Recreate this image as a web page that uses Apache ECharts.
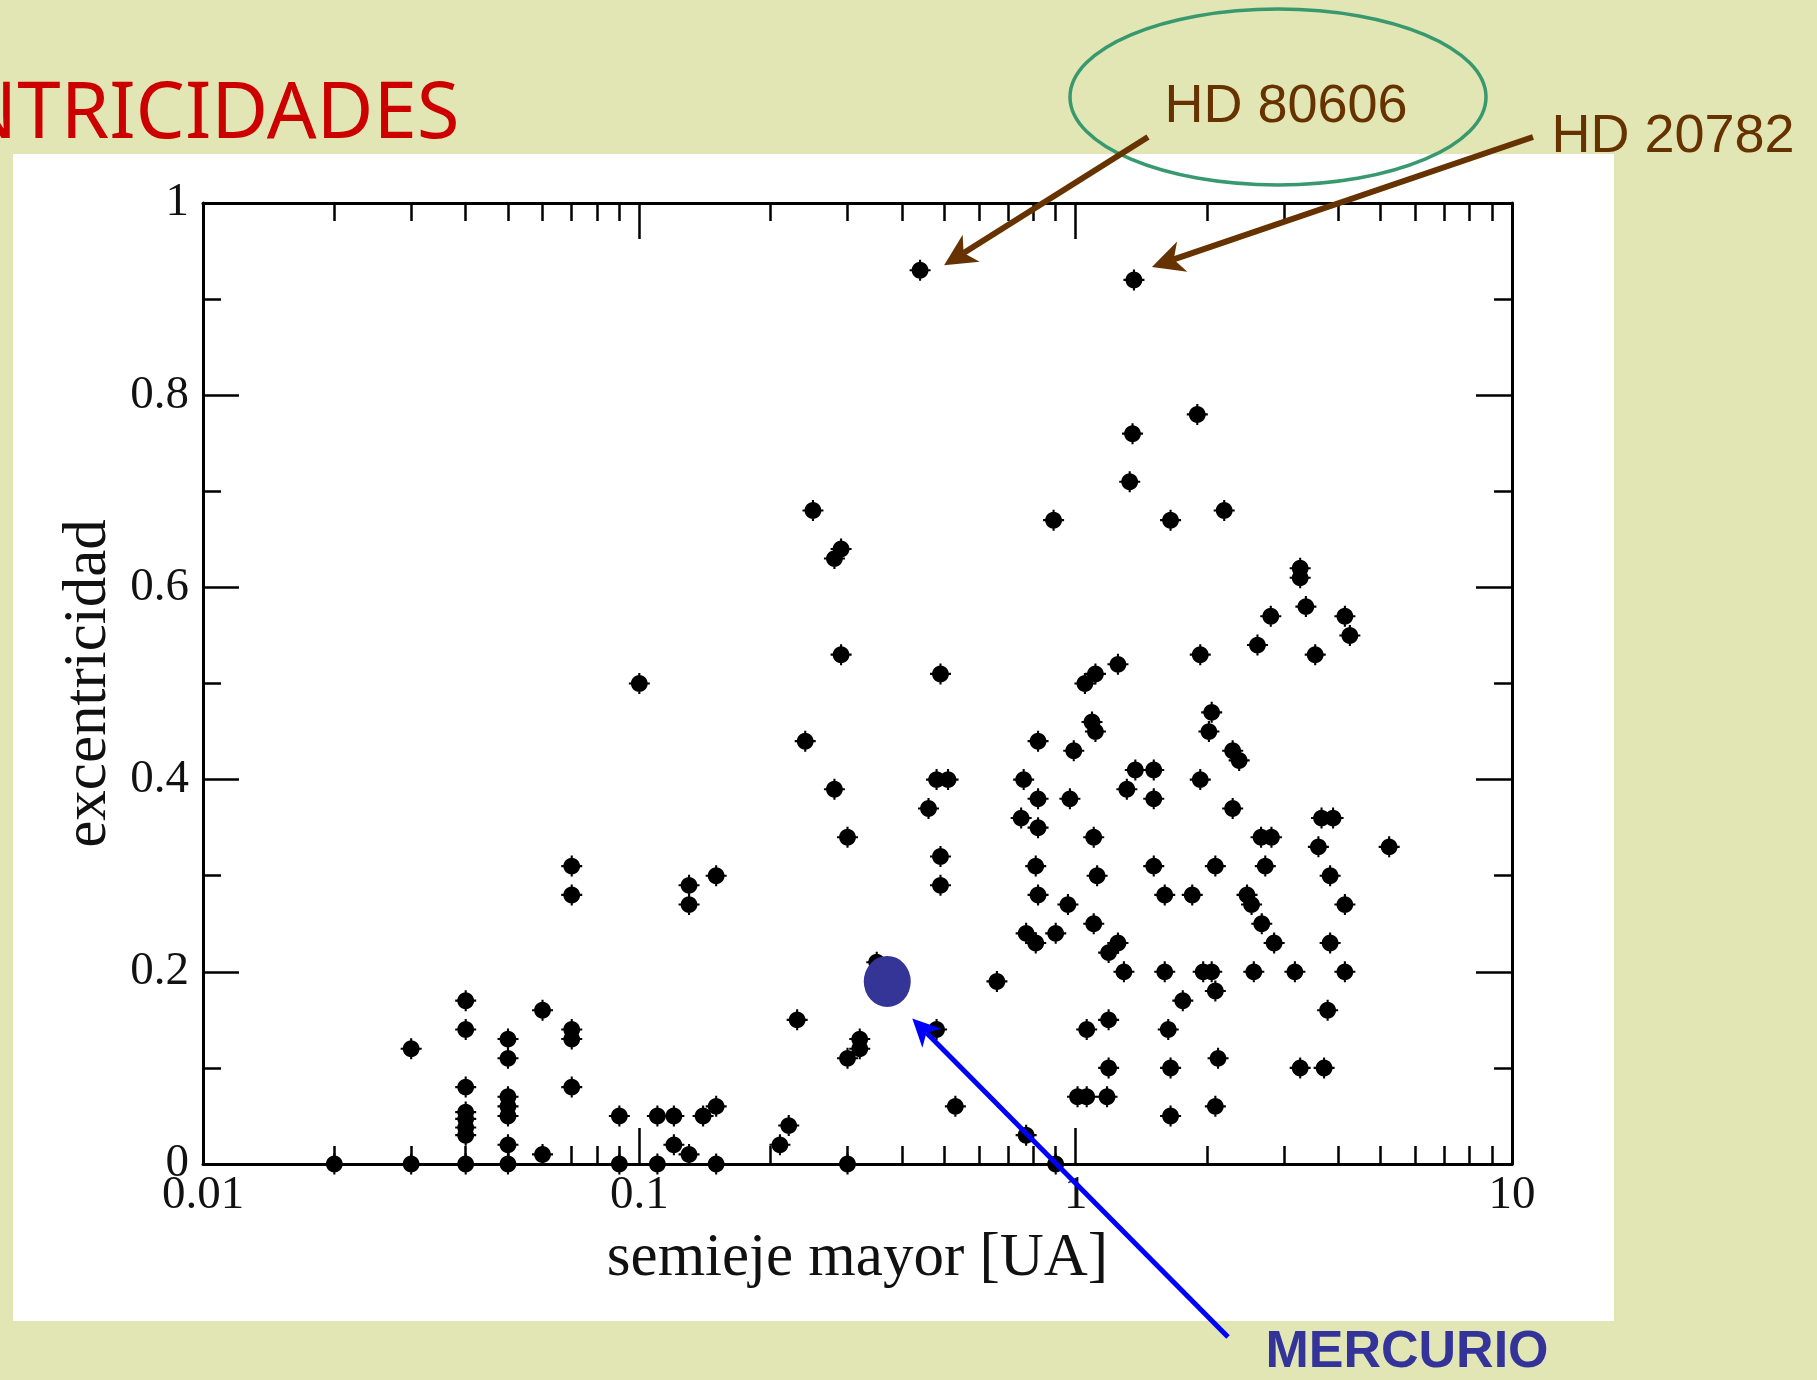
<!DOCTYPE html>
<html><head><meta charset="utf-8">
<script src="https://cdn.jsdelivr.net/npm/echarts@6/dist/echarts.min.js"></script>
<style>
html,body{margin:0;padding:0;background:#E2E6B4;overflow:hidden;}
#paper{position:absolute;left:13px;top:154px;width:1601px;height:1167px;background:#ffffff;}
#chart{position:absolute;left:0;top:0;width:1817px;height:1380px;}
</style></head><body>
<div id="paper"></div>
<div id="chart"></div>
<script>
// semieje mayor [UA] of each exoplanet
const semiejeMayor = [
  0.02,0.03,0.03,0.04,0.04,0.04,0.04,0.04,0.04,0.04,0.04,
  0.05,0.05,0.05,0.05,0.05,0.05,0.05,
  0.06,0.06,0.07,0.07,0.07,0.07,0.07,
  0.09,0.09,0.10,0.11,0.11,0.12,0.12,0.13,0.13,0.13,0.14,0.15,0.15,0.15,
  0.21,0.22,0.23,0.24,0.25,0.28,0.29,0.29,0.28,0.30,0.30,0.32,0.32,0.30,0.35,
  0.44,0.46,0.48,0.51,0.49,0.49,0.49,0.48,0.53,
  0.66,0.77,0.90,0.76,0.75,0.82,0.82,0.82,0.81,0.82,0.77,0.81,0.89,0.90,0.96,0.97,0.99,
  1.05,1.11,1.09,1.11,1.10,1.12,1.10,1.19,1.25,1.29,1.06,1.19,1.19,1.01,1.06,1.18,1.25,1.31,1.33,1.35,1.36,1.37,
  1.51,1.51,1.51,1.60,1.60,1.63,1.65,1.65,1.65,1.76,1.85,1.90,1.93,1.93,1.96,2.02,2.05,2.05,2.09,2.09,2.12,2.09,2.19,
  2.29,2.37,2.29,2.47,2.53,2.56,2.61,2.67,2.66,2.81,2.72,2.80,2.85,3.18,3.27,3.27,3.27,3.37,3.54,3.60,
  3.66,3.89,3.71,3.78,3.83,3.83,4.14,4.25,4.14,4.14,5.23
];
// excentricidad of each exoplanet (same order)
const excentricidad = [
  0,0,0.12,0,0.17,0.14,0.08,0.054,0.047,0.038,0.03,
  0,0.13,0.11,0.07,0.06,0.05,0.02,
  0.16,0.01,0.31,0.28,0.14,0.13,0.08,
  0.05,0,0.50,0.05,0,0.05,0.02,0.01,0.29,0.27,0.05,0.06,0.30,0,
  0.02,0.04,0.15,0.44,0.68,0.63,0.64,0.53,0.39,0.34,0.11,0.12,0.13,0,0.21,
  0.93,0.37,0.40,0.40,0.51,0.32,0.29,0.14,0.06,
  0.19,0.03,0,0.40,0.36,0.44,0.38,0.35,0.31,0.28,0.24,0.23,0.67,0.24,0.27,0.38,0.43,
  0.50,0.51,0.46,0.45,0.34,0.30,0.25,0.22,0.23,0.20,0.14,0.15,0.10,0.07,0.07,0.07,0.52,0.39,0.71,0.76,0.92,0.41,
  0.41,0.38,0.31,0.28,0.20,0.14,0.10,0.05,0.67,0.17,0.28,0.78,0.53,0.40,0.20,0.45,0.47,0.20,0.31,0.18,0.11,0.06,0.68,
  0.43,0.42,0.37,0.28,0.27,0.20,0.54,0.25,0.34,0.34,0.31,0.57,0.23,0.20,0.62,0.61,0.10,0.58,0.53,0.33,
  0.36,0.36,0.10,0.16,0.30,0.23,0.57,0.55,0.27,0.20,0.33
];
const mercurioA = [0.37];
const mercurioE = [0.19];
const hd80606 = [0.44, 0.93];
const hd20782 = [1.36, 0.92];
const xTickLabels = ['0.01','0.1','1','10'];
const yTickLabels = ['0','0.2','0.4','0.6','0.8','1'];

const planetPoints = semiejeMayor.map((a, i) => [a, excentricidad[i]]);
const mercurioPoints = mercurioA.map((a, i) => [a, mercurioE[i]]);

const serif = '"Liberation Serif", "Times New Roman", serif';
const tickStyle = { color: '#000', width: 2.5 };
const axisLineStyle = { show: true, onZero: false, lineStyle: { color: '#000', width: 3 } };
// filled dot with small cross spikes (20x20 box)
const starSymbol = 'path://M9 0H11V20H9Z M0 9H20V11H0Z ' +
  'M2 10C2 5.58 5.58 2 10 2C14.42 2 18 5.58 18 10C18 14.42 14.42 18 10 18C5.58 18 2 14.42 2 10Z';

function xAxisCfg(pos, main) {
  return {
    type: 'log', logBase: 10, min: 0.01, max: 10, position: pos, gridIndex: 0,
    name: main ? 'semieje mayor [UA]' : '',
    nameLocation: 'middle', nameGap: 64,
    nameTextStyle: { fontFamily: serif, fontSize: 61, color: '#111' },
    axisLine: axisLineStyle,
    axisTick: { show: true, inside: true, length: 36, lineStyle: tickStyle },
    minorTick: { show: true, splitNumber: 9, length: 18, lineStyle: tickStyle },
    splitLine: { show: false }, minorSplitLine: { show: false },
    axisLabel: { show: main, margin: 8, fontFamily: serif, fontSize: 47, color: '#111',
      showMinLabel: true, showMaxLabel: true,
      formatter: v => xTickLabels[Math.round(Math.log10(v)) + 2] }
  };
}
function yAxisCfg(pos, main) {
  return {
    type: 'value', min: 0, max: 1, interval: 0.2, position: pos, gridIndex: 0,
    name: main ? 'excentricidad' : '',
    nameLocation: 'middle', nameGap: 70,
    nameTextStyle: { fontFamily: serif, fontSize: 61, color: '#111' },
    axisLine: axisLineStyle,
    axisTick: { show: true, inside: true, length: 36, lineStyle: tickStyle },
    minorTick: { show: true, splitNumber: 2, length: 18, lineStyle: tickStyle },
    splitLine: { show: false }, minorSplitLine: { show: false },
    axisLabel: { show: main, margin: 14, fontFamily: serif, fontSize: 47, color: '#111',
      showMinLabel: true, showMaxLabel: true,
      formatter: v => yTickLabels[Math.round(v / 0.2)] }
  };
}

const chart = echarts.init(document.getElementById('chart'), null, { renderer: 'canvas' });
chart.setOption({
  backgroundColor: 'transparent',
  animation: false,
  grid: { left: 203, top: 203, width: 1309, height: 961, containLabel: false, outerBoundsMode: 'none' },
  xAxis: [xAxisCfg('bottom', true), xAxisCfg('top', false)],
  yAxis: [yAxisCfg('left', true), yAxisCfg('right', false)],
  series: [
    { type: 'scatter', xAxisIndex: 0, yAxisIndex: 0, data: planetPoints,
      symbol: starSymbol, symbolSize: 21, itemStyle: { color: '#000', opacity: 1 }, silent: true, z: 3 },
    { type: 'scatter', xAxisIndex: 0, yAxisIndex: 0, data: mercurioPoints,
      symbol: 'circle', symbolSize: [47, 51], itemStyle: { color: '#353598', opacity: 1 }, silent: true, z: 4 }
  ]
});

function arrow(x1, y1, x2, y2, color, lw, hl, hw) {
  const dx = x2 - x1, dy = y2 - y1, L = Math.hypot(dx, dy);
  const ux = dx / L, uy = dy / L, px = -uy, py = ux;
  const bx = x2 - ux * hl, by = y2 - uy * hl;
  const nx = x2 - ux * hl * 0.72, ny = y2 - uy * hl * 0.72;
  return [
    { type: 'line', silent: true, z: 10, shape: { x1: x1, y1: y1, x2: nx, y2: ny },
      style: { stroke: color, lineWidth: lw } },
    { type: 'polygon', silent: true, z: 10,
      shape: { points: [[x2, y2], [bx + px * hw / 2, by + py * hw / 2], [nx, ny], [bx - px * hw / 2, by - py * hw / 2]] },
      style: { fill: color } }
  ];
}
function label(text, x, y, font, fill) {
  return { type: 'text', silent: true, z: 10,
    style: { text: text, x: x, y: y, font: font, fill: fill,
      align: 'center', verticalAlign: 'middle', textAlign: 'center', textVerticalAlign: 'middle' } };
}

const brown = '#663300';
const p1 = chart.convertToPixel({ gridIndex: 0 }, hd80606);
const p2 = chart.convertToPixel({ gridIndex: 0 }, hd20782);
const pm = chart.convertToPixel({ gridIndex: 0 }, mercurioPoints[0]);

const graphics = [
  { type: 'text', silent: true, z: 10,
    style: { text: 'NTRICIDADES', x: -42, y: 116, font: 'normal 78px "Noto Sans", sans-serif', fill: '#CC0000',
      align: 'left', verticalAlign: 'middle', textAlign: 'left', textVerticalAlign: 'middle' } },
  { type: 'ellipse', silent: true, z: 10, shape: { cx: 1278, cy: 97, rx: 208, ry: 88 },
    style: { fill: 'none', stroke: '#38996E', lineWidth: 3.5 } },
  label('HD 80606', 1286, 107, 'normal 54px "Liberation Sans", Arial, sans-serif', brown),
  label('HD 20782', 1673, 137, 'normal 54px "Liberation Sans", Arial, sans-serif', brown),
  label('MERCURIO', 1407, 1353, 'bold 52px "Liberation Sans", Arial, sans-serif', '#333399')
].concat(
  arrow(1148, 137, p1[0] + 24, p1[1] - 5, brown, 6, 32, 32),
  arrow(1533, 137, p2[0] + 18, p2[1] - 13, brown, 6, 32, 32),
  arrow(1228, 1337, pm[0] + 25, pm[1] + 37, '#0000FF', 5, 28, 27)
);
chart.setOption({ graphic: graphics });
</script>
</body></html>
